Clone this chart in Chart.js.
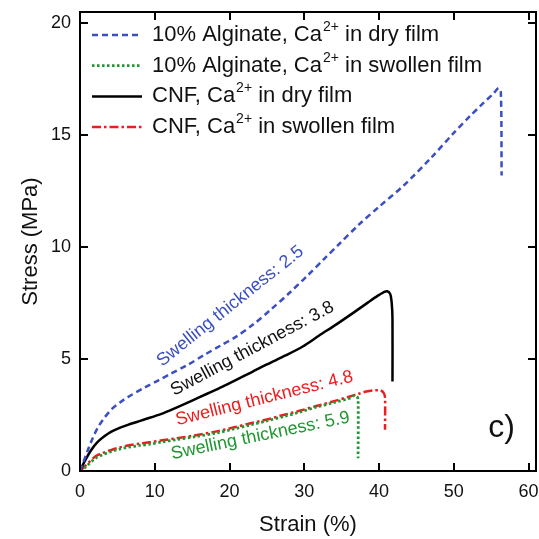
<!DOCTYPE html>
<html>
<head>
<meta charset="utf-8">
<script src="https://cdn.jsdelivr.net/npm/chart.js@4.4.1/dist/chart.umd.min.js"></script>
<style>
  html, body { margin: 0; padding: 0; background: #fff; }
  #wrap { width: 539px; height: 539px; }
</style>
</head>
<body>
<div id="wrap"><canvas id="myChart" width="539" height="539"></canvas></div>
<script>
// 10% alginate, Ca2+ in dry film (blue dashed)
const strainAlgDry = [0, 0.4, 1.07, 1.74, 2.4, 3.2, 4.2, 5.3, 6.4, 8.6, 10.5, 12, 14.3, 16.7, 18.8, 20.9, 23.2, 25.5, 28, 30.5, 32.6, 34.7, 37.3, 40, 43.3, 47, 50, 52.2, 54, 55.3, 56, 56.3, 56.4];
const stressAlgDry = [0, 0.35, 0.95, 1.5, 1.95, 2.35, 2.75, 3.05, 3.3, 3.72, 4.05, 4.32, 4.72, 5.2, 5.6, 6.0, 6.55, 7.2, 7.95, 8.75, 9.45, 10.15, 11.0, 11.8, 12.75, 14.0, 15.1, 15.86, 16.45, 16.85, 17.1, 16.9, 13.2];

// 10% alginate, Ca2+ in swollen film (green dotted)
const strainAlgSwollen = [0, 0.6, 2, 3, 4.2, 5.3, 6.4, 8, 9.35, 11, 12.9, 15.5, 18.3, 20.5, 22.7, 25, 27.2, 29.5, 31.6, 34, 36.1, 36.6, 37.0, 37.2, 37.2];
const stressAlgSwollen = [0, 0.14, 0.55, 0.72, 0.87, 0.98, 1.06, 1.14, 1.2, 1.3, 1.4, 1.54, 1.7, 1.87, 2.05, 2.24, 2.43, 2.64, 2.85, 3.06, 3.25, 3.36, 3.34, 3.2, 0.57];

// CNF, Ca2+ in dry film (black solid)
const strainCnfDry = [0, 0.6, 1.5, 2.4, 3.3, 4.2, 5.3, 6.4, 7.5, 8.6, 10.9, 12.9, 15, 17, 19, 20.9, 23, 25, 27.5, 29.8, 32, 34.3, 36.5, 38.5, 39.8, 40.6, 41.1, 41.5, 41.7, 41.8, 41.8];
const stressCnfDry = [0, 0.42, 0.94, 1.31, 1.56, 1.76, 1.93, 2.06, 2.18, 2.3, 2.55, 2.83, 3.14, 3.45, 3.76, 4.07, 4.42, 4.76, 5.16, 5.56, 6.05, 6.55, 7.05, 7.52, 7.82, 7.98, 8.03, 7.9, 7.5, 6.8, 4.0];

// CNF, Ca2+ in swollen film (red dash-dot)
const strainCnfSwollen = [0, 0.6, 2, 3, 4.2, 5.3, 6.4, 8, 9.35, 11, 12.9, 15.5, 18.3, 20.5, 22.7, 25, 27.2, 29.5, 31.6, 34, 36.1, 37.3, 38.3, 39.3, 40.2, 40.6, 40.8, 40.8];
const stressCnfSwollen = [0, 0.19, 0.64, 0.8, 0.94, 1.05, 1.14, 1.22, 1.28, 1.37, 1.46, 1.6, 1.77, 1.94, 2.12, 2.3, 2.5, 2.7, 2.9, 3.12, 3.33, 3.45, 3.55, 3.6, 3.6, 3.5, 3.3, 1.84];

const xTicks = [0, 10, 20, 30, 40, 50, 60];
const yTicks = [0, 5, 10, 15, 20];

const legendMain = ["10% Alginate, Ca", "10% Alginate, Ca", "CNF, Ca", "CNF, Ca"];
const legendSup = ["2+", "2+", "2+", "2+"];
const legendRest = [" in dry film", " in swollen film", " in dry film", " in swollen film"];

// swelling thickness notes: text, strain, stress, angle (deg)
const noteTexts = ["Swelling thickness: 2.5", "Swelling thickness: 3.8", "Swelling thickness: 4.8", "Swelling thickness: 5.9"];
const noteX = [20.1, 23.05, 24.66, 24.12];
const noteY = [7.36, 5.46, 3.24, 1.57];
const noteAngle = [-38.6, -28, -14, -11.7];
const noteColors = ["#3b4fc0", "#111111", "#ee1c1c", "#1f9630"];

const FONT = '"Liberation Sans", Arial, sans-serif';

function pts(xs, ys) {
  return xs.map((x, i) => ({ x: x, y: ys[i] }));
}

const framePlugin = {
  id: "frame",
  afterDatasetsDraw(chart) {
    const { ctx, chartArea: a, scales: { x, y } } = chart;
    ctx.save();
    ctx.strokeStyle = "#000";
    ctx.lineWidth = 2;
    ctx.strokeRect(a.left, a.top, a.right - a.left, a.bottom - a.top);
    ctx.beginPath();
    for (const t of xTicks) {
      const px = Math.round(x.getPixelForValue(t));
      ctx.moveTo(px, a.bottom); ctx.lineTo(px, a.bottom - 8);
      ctx.moveTo(px, a.top); ctx.lineTo(px, a.top + 8);
    }
    for (const t of yTicks) {
      const py = Math.round(y.getPixelForValue(t));
      ctx.moveTo(a.left, py); ctx.lineTo(a.left + 8, py);
      ctx.moveTo(a.right, py); ctx.lineTo(a.right - 8, py);
    }
    ctx.stroke();

    // legend
    const ds = chart.data.datasets;
    for (let i = 0; i < ds.length; i++) {
      const ly = 35 + i * 30.7;
      ctx.beginPath();
      ctx.strokeStyle = ds[i].borderColor;
      ctx.lineWidth = ds[i].borderWidth;
      ctx.setLineDash(ds[i].borderDash || []);
      ctx.moveTo(92, ly); ctx.lineTo(142, ly);
      ctx.stroke();
      ctx.setLineDash([]);
      ctx.fillStyle = "#111";
      ctx.textBaseline = "middle";
      ctx.textAlign = "left";
      ctx.font = "22px " + FONT;
      let tx = 152;
      ctx.fillText(legendMain[i], tx, ly);
      tx += ctx.measureText(legendMain[i]).width + 1;
      ctx.font = "14px " + FONT;
      ctx.fillText(legendSup[i], tx, ly - 8);
      tx += ctx.measureText(legendSup[i]).width;
      ctx.font = "22px " + FONT;
      ctx.fillText(legendRest[i], tx, ly);
    }

    // notes
    ctx.font = "18px " + FONT;
    ctx.textAlign = "center";
    ctx.textBaseline = "middle";
    for (let i = 0; i < noteTexts.length; i++) {
      ctx.save();
      ctx.translate(x.getPixelForValue(noteX[i]), y.getPixelForValue(noteY[i]));
      ctx.rotate(noteAngle[i] * Math.PI / 180);
      ctx.fillStyle = noteColors[i];
      ctx.fillText(noteTexts[i], 0, 0);
      ctx.restore();
    }

    // panel label
    ctx.fillStyle = "#111";
    ctx.font = "32px " + FONT;
    ctx.fillText("c)", x.getPixelForValue(56.4), y.getPixelForValue(1.9));
    ctx.restore();
  }
};

const ctx = document.getElementById("myChart");
const myChart = new Chart(ctx, {
  type: "line",
  data: {
    datasets: [
      {
        data: pts(strainAlgDry, stressAlgDry),
        borderColor: "#3b4fc0",
        borderWidth: 2.5,
        borderDash: [6, 4],
      },
      {
        data: pts(strainAlgSwollen, stressAlgSwollen),
        borderColor: "#1f9630",
        borderWidth: 2.8,
        borderDash: [2.5, 2.5],
      },
      {
        data: pts(strainCnfDry, stressCnfDry),
        borderColor: "#000000",
        borderWidth: 2.5,
      },
      {
        data: pts(strainCnfSwollen, stressCnfSwollen),
        borderColor: "#ee1c1c",
        borderWidth: 2.5,
        borderDash: [9, 3, 2.5, 3],
      },
    ],
  },
  options: {
    responsive: false,
    animation: false,
    elements: {
      point: { radius: 0 },
      line: { tension: 0.3, fill: false },
    },
    layout: { padding: { top: 12, right: 3, left: 0, bottom: 0 } },
    plugins: {
      legend: { display: false },
      tooltip: { enabled: false },
    },
    scales: {
      x: {
        type: "linear",
        min: 0,
        max: 61,
        afterFit: (scale) => { scale.height = 68; scale.paddingLeft = 0; scale.paddingRight = 0; },
        afterBuildTicks: (scale) => { scale.ticks = xTicks.map((v) => ({ value: v })); },
        grid: { display: false, drawTicks: false },
        border: { display: false },
        ticks: { padding: 10, color: "#111", font: { size: 18, family: FONT }, maxRotation: 0 },
        title: { display: true, text: "Strain (%)", color: "#111", font: { size: 22, family: FONT }, padding: { top: 0, bottom: 1 } },
      },
      y: {
        min: 0,
        max: 20.5,
        afterFit: (scale) => { scale.width = 80; scale.paddingTop = 0; scale.paddingBottom = 0; },
        afterBuildTicks: (scale) => { scale.ticks = yTicks.map((v) => ({ value: v })); },
        grid: { display: false, drawTicks: false },
        border: { display: false },
        ticks: { padding: 9, color: "#111", font: { size: 18, family: FONT } },
        title: { display: true, text: "Stress (MPa)", color: "#111", font: { size: 22, family: FONT }, padding: { top: 18, bottom: 0 } },
      },
    },
  },
  plugins: [framePlugin],
});
</script>
</body>
</html>
